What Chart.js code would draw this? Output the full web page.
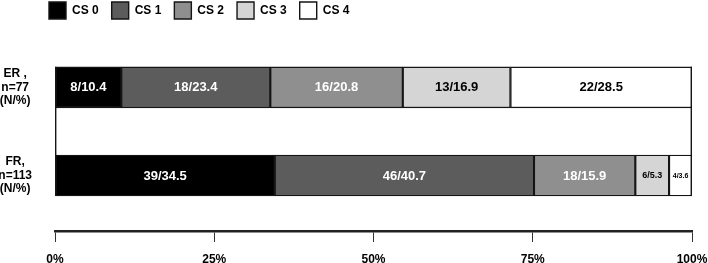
<!DOCTYPE html>
<html>
<head>
<meta charset="utf-8">
<script src="https://cdn.jsdelivr.net/npm/chart.js@4.4.1/dist/chart.umd.min.js"></script>
<style>
  html, body { margin: 0; padding: 0; background: #ffffff; }
  #wrap { position: relative; width: 708px; height: 263px; }
</style>
</head>
<body>
<div id="wrap"><canvas id="c"></canvas></div>
<script>
// ---- data ----
const groups = [["ER ,", "n=77", "(N/%)"], ["FR,", "n=113", "(N/%)"]];
const levels = ["CS 0", "CS 1", "CS 2", "CS 3", "CS 4"];
const erCounts = [8, 18, 16, 13, 22];
const erPercents = [10.4, 23.4, 20.8, 16.9, 28.5];
const frCounts = [39, 46, 18, 6, 4];
const frPercents = [34.5, 40.7, 15.9, 5.3, 3.6];
const xTicks = [0, 25, 50, 75, 100];

// ---- styles ----
const FONT = '"Liberation Sans", Arial, Helvetica, sans-serif';
const fills = ["#000000", "#5c5c5c", "#8f8f8f", "#d5d5d5", "#ffffff"];
const labelColors = ["#ffffff", "#ffffff", "#ffffff", "#000000", "#000000"];

const counts = [erCounts, frCounts];
const percents = [erPercents, frPercents];

const datasets = levels.map((name, i) => ({
  label: name,
  data: groups.map((g, gi) => ({ x: percents[gi][i], y: gi })),
  counts: groups.map((g, gi) => counts[gi][i]),
  backgroundColor: fills[i],
  borderColor: "#151515",
  borderWidth: 1.4,
  borderSkipped: false,
  barThickness: 41,
  grouped: false,
  labelColor: labelColors[i]
}));

const legendShift = {
  id: "legendShift",
  afterLayout(chart) {
    const lg = chart.legend;
    if (!lg) return;
    const pad = lg.options.labels.padding;
    lg.left = 49 - pad;
    lg.top = 2 - pad;
  }
};

const frameLines = {
  id: "frameLines",
  afterDatasetsDraw(chart) {
    const meta = chart.getDatasetMeta(0);
    const first = meta.data[0], last = meta.data[meta.data.length - 1];
    const top = first.y - first.height / 2;
    const bottom = last.y + last.height / 2;
    const xs = chart.scales.x;
    const ctx = chart.ctx;
    ctx.save();
    ctx.strokeStyle = "#151515";
    ctx.lineWidth = 1.4;
    [xs.getPixelForValue(0) + 0.7, xs.getPixelForValue(100) - 0.7].forEach(px => {
      ctx.beginPath();
      ctx.moveTo(px, top);
      ctx.lineTo(px, bottom);
      ctx.stroke();
    });
    ctx.restore();
  }
};

const barLabels = {
  id: "barLabels",
  afterDatasetsDraw(chart) {
    const ctx = chart.ctx;
    ctx.save();
    ctx.textAlign = "center";
    ctx.textBaseline = "middle";
    chart.data.datasets.forEach((ds, di) => {
      const meta = chart.getDatasetMeta(di);
      meta.data.forEach((bar, i) => {
        const text = ds.counts[i] + "/" + ds.data[i].x.toFixed(1);
        const w = Math.abs(bar.x - bar.base);
        let size = 13;
        ctx.font = "bold " + size + "px " + FONT;
        if (ctx.measureText(text).width > w - 8) {
          size = 9;
          ctx.font = "bold " + size + "px " + FONT;
          if (ctx.measureText(text).width > w - 6) {
            size = 7;
            ctx.font = "bold " + size + "px " + FONT;
          }
        }
        ctx.fillStyle = ds.labelColor;
        ctx.fillText(text, (bar.x + bar.base) / 2, bar.y + 0.5);
      });
    });
    ctx.restore();
  }
};

new Chart(document.getElementById("c"), {
  type: "bar",
  data: { datasets },
  options: {
    indexAxis: "y",
    responsive: true,
    maintainAspectRatio: false,
    animation: false,
    layout: { padding: { left: 0, right: 16, top: 0, bottom: 0 } },
    plugins: {
      legend: {
        display: true,
        position: "top",
        align: "start",
        labels: {
          boxWidth: 17,
          boxHeight: 17,
          padding: 13,
          color: "#000",
          font: { family: FONT, size: 12, weight: "bold" }
        }
      },
      tooltip: { enabled: false }
    },
    scales: {
      x: {
        type: "linear",
        stacked: true,
        min: 0,
        max: 100,
        afterBuildTicks(scale) { scale.ticks = xTicks.map(v => ({ value: v })); },
        afterFit(scale) { scale.height = 32; scale.paddingLeft = 0; scale.paddingRight = 0; },
        grid: {
          display: true,
          drawOnChartArea: false,
          drawTicks: true,
          tickLength: 11,
          tickColor: "#333",
          lineWidth: 1
        },
        border: { display: true, color: "#222", width: 2.5 },
        ticks: {
          padding: 10,
          color: "#000",
          font: { family: FONT, size: 12, weight: "bold", lineHeight: 1.2 },
          callback: v => v + "%"
        }
      },
      y: {
        type: "linear",
        reverse: true,
        offset: false,
        bounds: "data",
        min: -0.5375,
        max: 1.63,
        afterBuildTicks(scale) { scale.ticks = groups.map((g, i) => ({ value: i })); },
        afterFit(scale) { scale.width = 55; scale.paddingTop = 0; scale.paddingBottom = 0; },
        grid: { display: false, drawTicks: false, offset: false },
        border: { display: false },
        ticks: {
          padding: 23,
          crossAlign: "center",
          color: "#000",
          font: { family: FONT, size: 12, weight: "bold", lineHeight: 1.12 },
          callback: (v) => groups[v]
        }
      }
    }
  },
  plugins: [legendShift, frameLines, barLabels]
});
</script>
</body>
</html>
